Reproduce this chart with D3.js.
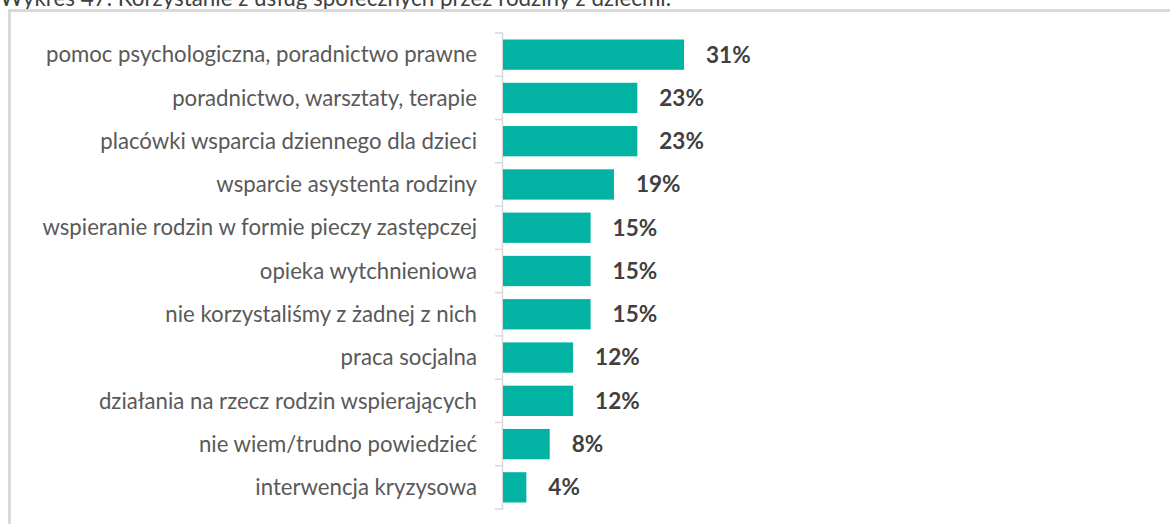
<!DOCTYPE html>
<html>
<head>
<meta charset="utf-8">
<script src="https://cdn.jsdelivr.net/npm/d3@7"></script>
<style>
  html, body { margin: 0; padding: 0; background: #fff; }
  svg { display: block; }
</style>
</head>
<body>
<svg id="chart" width="1170" height="524"></svg>
<script>
// Usługi społeczne, z których korzystały rodziny z dziećmi (%)
const categories = [
  "pomoc psychologiczna, poradnictwo prawne",
  "poradnictwo, warsztaty, terapie",
  "placówki wsparcia dziennego dla dzieci",
  "wsparcie asystenta rodziny",
  "wspieranie rodzin w formie pieczy zastępczej",
  "opieka wytchnieniowa",
  "nie korzystaliśmy z żadnej z nich",
  "praca socjalna",
  "działania na rzecz rodzin wspierających",
  "nie wiem/trudno powiedzieć",
  "interwencja kryzysowa"
];
const values = [31, 23, 23, 19, 15, 15, 15, 12, 12, 8, 4];
const title = "Wykres 47. Korzystanie z usług społecznych przez rodziny z dziećmi.";

const svg = d3.select("#chart");
const font = "Lato, 'Open Sans', sans-serif";

// Title, partly cropped by the top edge
svg.append("text")
  .attr("x", 0)
  .attr("y", 5.5)
  .attr("font-family", font)
  .attr("font-size", 22.4)
  .attr("fill", "#404040")
  .text(title);

// Chart frame
svg.append("rect")
  .attr("x", 9.5)
  .attr("y", 10.5)
  .attr("width", 1300)
  .attr("height", 700)
  .attr("fill", "none")
  .attr("stroke", "#d9d9d9")
  .attr("stroke-width", 3);

const x0 = 503;
const x = d3.scaleLinear().domain([0, 100]).range([x0, x0 + 584]);
const y = d3.scaleBand()
  .domain(categories)
  .range([33, 509])
  .paddingInner(0.3)
  .paddingOuter(0.15);

// Category axis with tick marks at band boundaries
const g = svg.append("g");
g.append("line")
  .attr("x1", x0 - 0.5).attr("x2", x0 - 0.5)
  .attr("y1", 33).attr("y2", 509)
  .attr("stroke", "#d9d9d9").attr("stroke-width", 1.5);
const bounds = d3.range(categories.length + 1).map(i => 33 + i * (476 / categories.length));
g.selectAll(".tick-mark")
  .data(bounds)
  .join("line")
  .attr("class", "tick-mark")
  .attr("x1", x0 - 8).attr("x2", x0)
  .attr("y1", d => d).attr("y2", d => d)
  .attr("stroke", "#d9d9d9").attr("stroke-width", 1.5);

// Category labels
svg.selectAll(".cat")
  .data(categories)
  .join("text")
  .attr("class", "cat")
  .attr("x", 477)
  .attr("y", d => y(d) + y.bandwidth() / 2)
  .attr("dy", "0.35em")
  .attr("text-anchor", "end")
  .attr("font-family", font)
  .attr("font-size", 22.2)
  .attr("fill", "#595959")
  .text(d => d);

// Bars
svg.selectAll(".bar")
  .data(values)
  .join("rect")
  .attr("class", "bar")
  .attr("x", x(0))
  .attr("y", (d, i) => y(categories[i]))
  .attr("width", d => x(d) - x(0))
  .attr("height", y.bandwidth())
  .attr("fill", "#02b2a2");

// Value labels
svg.selectAll(".val")
  .data(values)
  .join("text")
  .attr("class", "val")
  .attr("x", d => x(d) + 22)
  .attr("y", (d, i) => y(categories[i]) + y.bandwidth() / 2)
  .attr("dy", "0.35em")
  .attr("font-family", font)
  .attr("font-weight", "bold")
  .attr("font-size", 22.5)
  .attr("fill", "#404040")
  .text(d => d + "%");
</script>
</body>
</html>
